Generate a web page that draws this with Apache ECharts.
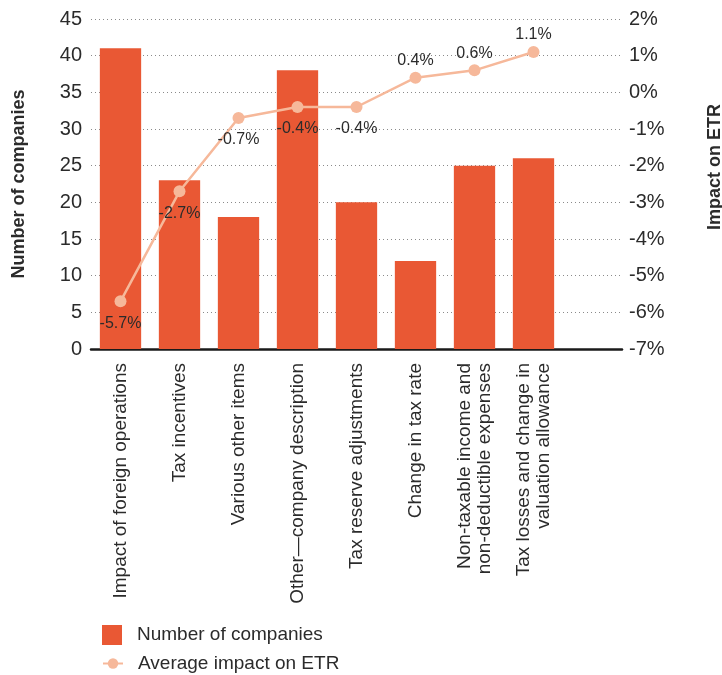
<!DOCTYPE html>
<html>
<head>
<meta charset="utf-8">
<script src="https://cdn.jsdelivr.net/npm/echarts@6/dist/echarts.min.js"></script>
<style>
  html, body { margin: 0; padding: 0; background: #fff; }
  #chart { width: 722px; height: 675px; }
</style>
</head>
<body>
<div id="chart"></div>
<script>
// Reconciling items: how many companies report each, and the average ETR impact
const categories = [
  'Impact of foreign operations',
  'Tax incentives',
  'Various other items',
  'Other\u2014company description',
  'Tax reserve adjustments',
  'Change in tax rate',
  'Non-taxable income and\nnon-deductible expenses',
  'Tax losses and change in\nvaluation allowance'
];
const companyCounts = [41, 23, 18, 38, 20, 12, 25, 26];
const etrImpact = [-5.7, -2.7, -0.7, -0.4, -0.4, 0.4, 0.6, 1.1];

const countTicks = { min: 0, max: 45, interval: 5 };
const etrTicks = { min: -7, max: 2, interval: 1 };

const BAR_COLOR = '#E95834';
const LINE_COLOR = '#F6B89A';
const TEXT_COLOR = '#2b2b2b';
const FONT = 'Liberation Sans, Arial, Helvetica, sans-serif';

// Negative impacts are labelled under the point, positive ones above it
const etrPoints = etrImpact.map(v => ({
  value: v,
  label: v < 0 ? { position: 'bottom', distance: 8 } : { position: 'top', distance: 3 }
}));

const chart = echarts.init(document.getElementById('chart'), null, { renderer: 'canvas' });

chart.setOption({
  animation: false,
  textStyle: { fontFamily: FONT, color: TEXT_COLOR },
  grid: { left: 91, right: 100, top: 19, bottom: 326, containLabel: false, outerBoundsMode: 'none' },
  legend: [
    {
      data: ['Number of companies'],
      orient: 'vertical',
      left: 97, top: 620,
      itemWidth: 20, itemHeight: 20,
      icon: 'rect',
      textStyle: { fontSize: 19, color: TEXT_COLOR, fontFamily: FONT, padding: [0, 0, 0, 10] }
    },
    {
      data: ['Average impact on ETR'],
      orient: 'vertical',
      left: 97, top: 649,
      itemWidth: 20, itemHeight: 13,
      textStyle: { fontSize: 19, color: TEXT_COLOR, fontFamily: FONT, padding: [0, 0, 0, 10] }
    }
  ],
  xAxis: {
    type: 'category',
    data: categories,
    max: categories.length, // leaves one empty band on the right
    axisLine: { lineStyle: { color: '#1a1a1a', width: 2.5 } },
    axisTick: { show: false },
    axisLabel: {
      interval: 0,
      rotate: 90,
      margin: 14,
      fontSize: 19,
      lineHeight: 20,
      color: TEXT_COLOR,
      fontFamily: FONT
    }
  },
  yAxis: [
    {
      type: 'value',
      min: countTicks.min, max: countTicks.max, interval: countTicks.interval,
      name: 'Number of companies',
      nameLocation: 'middle',
      nameGap: 63,
      nameTextStyle: { fontSize: 18, fontWeight: 'bold', color: TEXT_COLOR, fontFamily: FONT },
      axisLine: { show: false },
      axisTick: { show: false },
      axisLabel: { fontSize: 20, margin: 9, color: TEXT_COLOR, fontFamily: FONT },
      splitLine: { lineStyle: { type: [1, 3], color: '#8a8a8a', width: 1 } }
    },
    {
      type: 'value',
      position: 'right',
      min: etrTicks.min, max: etrTicks.max, interval: etrTicks.interval,
      name: 'Impact on ETR',
      nameLocation: 'middle',
      nameRotate: 90,
      nameGap: 84,
      nameTextStyle: {
        fontSize: 18, fontWeight: 'bold', color: TEXT_COLOR, fontFamily: FONT,
        padding: [0, 0, 0, 34]
      },
      axisLine: { show: false },
      axisTick: { show: false },
      axisLabel: { fontSize: 20, margin: 7, color: TEXT_COLOR, fontFamily: FONT, formatter: v => v + '%' },
      splitLine: { show: false }
    }
  ],
  series: [
    {
      name: 'Number of companies',
      type: 'bar',
      data: companyCounts,
      yAxisIndex: 0,
      barCategoryGap: '30%',
      itemStyle: { color: BAR_COLOR }
    },
    {
      name: 'Average impact on ETR',
      type: 'line',
      data: etrPoints,
      yAxisIndex: 1,
      symbol: 'circle',
      symbolSize: 12,
      lineStyle: { color: LINE_COLOR, width: 2.5 },
      itemStyle: { color: LINE_COLOR },
      label: {
        show: true,
        fontSize: 16,
        color: TEXT_COLOR,
        fontFamily: FONT,
        formatter: p => p.value.toFixed(1) + '%'
      },
      z: 3
    }
  ]
});
</script>
</body>
</html>
